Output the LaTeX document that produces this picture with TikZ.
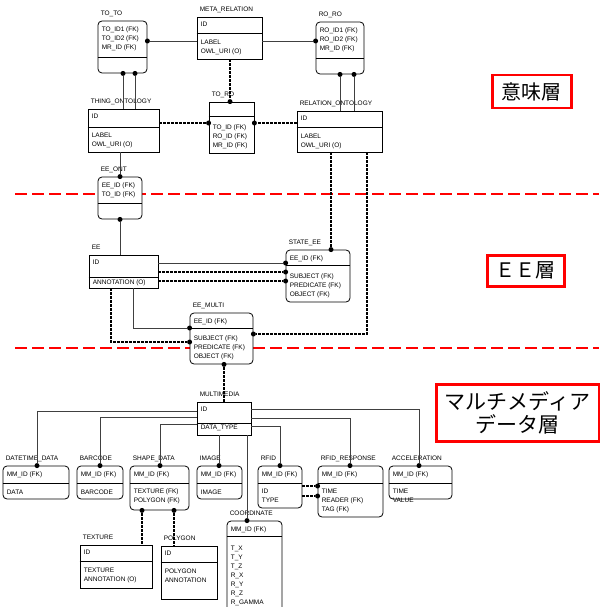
\documentclass[tikz,border=0pt]{standalone}
\usepackage{fontspec}
\setmainfont{Liberation Sans}
\newfontfamily\jpfont{Noto Sans CJK JP}
\usetikzlibrary{fit}

\begin{document}
\begin{tikzpicture}[x=1pt, y=-1pt]
    \tikzset{
        ent/.style={draw, fill=white, line width=0.8pt, rounded corners=4pt, inner sep=0pt},
        sq/.style={draw, fill=white, line width=0.8pt, inner sep=0pt},
        ttl/.style={anchor=base west, inner sep=0pt, font=\fontsize{6.5}{9}\selectfont},
        attr/.style={anchor=north west, inner sep=0pt, align=left, font=\fontsize{6.5}{9}\selectfont},
        dot/.style={circle, fill=black, inner sep=0pt, minimum size=5pt},
        rel/.style={line width=0.8pt, black!75},
        idrel/.style={line width=1.6pt, dash pattern=on 2.5pt off 1.5pt},
        layer/.style={red, line width=2.2pt, dash pattern=on 12pt off 5pt},
        tag/.style={draw=red, line width=2.5pt, inner sep=0pt, anchor=north west, align=center,
            font={\jpfont\fontsize{20}{23}\selectfont}}
    }
    % name, style, corner, corner, divider, title, key part, rest, offset
    \def\ent#1#2#3#4#5#6#7#8#9{
        \node[#2, fit={(#3) (#4)}] (#1) {};
        \draw[line width=0.8pt] (#1.west |- 0,#5) -- (#1.east |- 0,#5);
        \node[ttl, xshift=3pt, yshift=5pt] at (#1.north west) {#6};
        \node[attr, xshift=4pt, yshift=-5.5pt] at (#1.north west) {#7};
        \node[attr, xshift=4pt, yshift=-#9pt] at (#1.west |- 0,#5) {#8};
    }
    \useasboundingbox (0,0) rectangle (599,607);

    \draw[layer] (15,194) -- (599,194);
    \draw[layer] (15,348) -- (599,348);

    \node[tag, minimum width=79pt, minimum height=33pt] (sem) at (491,74) {意味層};
    \node[tag, minimum width=77pt, minimum height=31pt] (eel) at (486,254) {ＥＥ層};
    \node[tag, minimum width=163pt, minimum height=57pt,
        font={\jpfont\fontsize{21}{23}\selectfont}] (mml) at (435,383) {マルチメディア\\データ層};

    % semantic layer
    \ent{toto}{ent}{98,21}{147,73}{57}{TO\_TO}{TO\_ID1 (FK)\\TO\_ID2 (FK)\\MR\_ID (FK)}{}{6}
    \ent{meta}{sq}{197,17}{262,59}{33}{META\_RELATION}{ID}{LABEL\\OWL\_URI (O)}{7}
    \ent{roro}{ent}{316,22}{364,74}{58}{RO\_RO}{RO\_ID1 (FK)\\RO\_ID2 (FK)\\MR\_ID (FK)}{}{6}
    \ent{thing}{sq}{88,109}{159,152}{127}{THING\_ONTOLOGY}{ID}{LABEL\\OWL\_URI (O)}{5.5}
    \ent{toro}{sq}{209,102}{254,153}{116}{TO\_RO}{}{TO\_ID (FK)\\RO\_ID (FK)\\MR\_ID (FK)}{9}
    \ent{relont}{sq}{297,111}{382,152}{127}{RELATION\_ONTOLOGY}{ID}{LABEL\\OWL\_URI (O)}{6.5}
    \ent{eeont}{ent}{98,177}{142,219}{203}{EE\_ONT}{EE\_ID (FK)\\TO\_ID (FK)}{}{6}

    % EE layer
    \ent{ee}{sq}{89,255}{158,288}{277}{EE}{ID}{ANNOTATION (O)}{2.2}
    \ent{stee}{ent}{286,250}{350,302}{265}{STATE\_EE}{EE\_ID (FK)}{SUBJECT (FK)\\PREDICATE (FK)\\OBJECT (FK)}{8.5}
    \ent{eemul}{ent}{190,313}{253,364}{328}{EE\_MULTI}{EE\_ID (FK)}{SUBJECT (FK)\\PREDICATE (FK)\\OBJECT (FK)}{7.5}

    % multimedia layer
    \ent{mm}{sq}{197,402}{251,435}{423}{MULTIMEDIA}{ID}{DATA\_TYPE}{2}
    \ent{dtm}{ent}{3,466}{69,499}{483}{DATETIME\_DATA}{MM\_ID (FK)}{DATA}{7}
    \ent{bar}{ent}{77,466}{123,499}{483}{BARCODE}{MM\_ID (FK)}{BARCODE}{7}
    \ent{shp}{ent}{130,466}{189,510}{483}{SHAPE\_DATA}{MM\_ID (FK)}{TEXTURE (FK)\\POLYGON (FK)}{6}
    \ent{img}{ent}{197,466}{242,499}{483}{IMAGE}{MM\_ID (FK)}{IMAGE}{7}
    \ent{rfid}{ent}{258,466}{302,508}{483}{RFID}{MM\_ID (FK)}{ID\\TYPE}{5.5}
    \ent{rfresp}{ent}{318,466}{383,517}{483}{RFID\_RESPONSE}{MM\_ID (FK)}{TIME\\READER (FK)\\TAG (FK)}{5.5}
    \ent{acc}{ent}{389,466}{452,499}{483}{ACCELERATION}{MM\_ID (FK)}{TIME\\VALUE}{5.5}
    \ent{tex}{sq}{80,545}{152,588}{561}{TEXTURE}{ID}{TEXTURE\\ANNOTATION (O)}{7}
    \ent{poly}{sq}{161,546}{217,599}{562}{POLYGON}{ID}{POLYGON\\ANNOTATION}{7}
    \ent{coord}{ent}{227,521}{282,625}{536}{COORDINATE}{MM\_ID (FK)}{T\_X\\T\_Y\\T\_Z\\R\_X\\R\_Y\\R\_Z\\R\_GAMMA}{9.5}

    % semantic layer relations
    \node[dot] (d-toto) at (toto.east |- 0,41) {};
    \draw[rel] (meta.west |- d-toto) -- (d-toto);
    \node[dot] (d-roro) at (roro.west |- 0,41) {};
    \draw[rel] (meta.east |- d-roro) -- (d-roro);
    \foreach \x in {123, 135} {
        \node[dot] (d-tt\x) at (toto.south -| \x,0) {};
        \draw[rel] (d-tt\x) -- (thing.north -| d-tt\x);
    }
    \foreach \x in {340, 354} {
        \node[dot] (d-rr\x) at (roro.south -| \x,0) {};
        \draw[rel] (d-rr\x) -- (relont.north -| d-rr\x);
    }
    \node[dot] (d-toro-n) at (toro.north -| 230,0) {};
    \draw[idrel] (meta.south -| d-toro-n) -- (d-toro-n);
    \node[dot] (d-toro-w) at (toro.west |- 0,123) {};
    \draw[idrel] (thing.east |- d-toro-w) -- (d-toro-w);
    \node[dot] (d-toro-e) at (toro.east |- 0,123) {};
    \draw[idrel] (relont.west |- d-toro-e) -- (d-toro-e);
    \node[dot] (d-eeont-n) at (eeont.north -| 120,0) {};
    \draw[rel] (thing.south -| d-eeont-n) -- (d-eeont-n);
    \node[dot] (d-eeont-s) at (eeont.south -| 120,0) {};
    \draw[rel] (ee.north -| d-eeont-s) -- (d-eeont-s);

    % EE layer relations
    \node[dot] (d-st263) at (stee.west |- 0,263) {};
    \draw[rel] (ee.east |- d-st263) -- (d-st263);
    \foreach \y in {272, 281} {
        \node[dot] (d-st\y) at (stee.west |- 0,\y) {};
        \draw[idrel] (ee.east |- d-st\y) -- (d-st\y);
    }
    \node[dot] (d-st-n) at (stee.north -| 331,0) {};
    \draw[idrel] (relont.south -| d-st-n) -- (d-st-n);
    \node[dot] (d-em-e) at (eemul.east |- 0,334) {};
    \draw[idrel] (relont.south -| 367,0) |- (d-em-e);
    \node[dot] (d-em1) at (eemul.west |- 0,328) {};
    \draw[rel] (ee.south -| 133,0) |- (d-em1);
    \node[dot] (d-em2) at (eemul.west |- 0,342) {};
    \draw[idrel] (ee.south -| 111,0) |- (d-em2);
    \node[dot] (d-em-s) at (eemul.south -| 224,0) {};
    \draw[idrel] (d-em-s) -- (mm.north -| d-em-s);

    % multimedia layer relations
    \foreach \n/\x/\y in {dtm/37/411, bar/100/417, shp/160/424} {
        \node[dot] (d-\n) at (\n.north -| \x,0) {};
        \draw[rel] (mm.west |- 0,\y) -| (d-\n);
    }
    \foreach \n/\x/\y in {acc/419/409, rfresp/350/418, rfid/280/426} {
        \node[dot] (d-\n) at (\n.north -| \x,0) {};
        \draw[rel] (mm.east |- 0,\y) -| (d-\n);
    }
    \foreach \n/\x in {img/219, coord/247} {
        \node[dot] (d-\n) at (\n.north -| \x,0) {};
        \draw[rel] (mm.south -| d-\n) -- (d-\n);
    }
    \foreach \y in {486, 496} {
        \node[dot] (d-rs\y) at (rfresp.west |- 0,\y) {};
        \draw[idrel] (rfid.east |- d-rs\y) -- (d-rs\y);
    }
    \foreach \n/\x in {tex/142, poly/174} {
        \node[dot] (d-sh\n) at (shp.south -| \x,0) {};
        \draw[idrel] (d-sh\n) -- (\n.north -| d-sh\n);
    }

\end{tikzpicture}
\end{document}
